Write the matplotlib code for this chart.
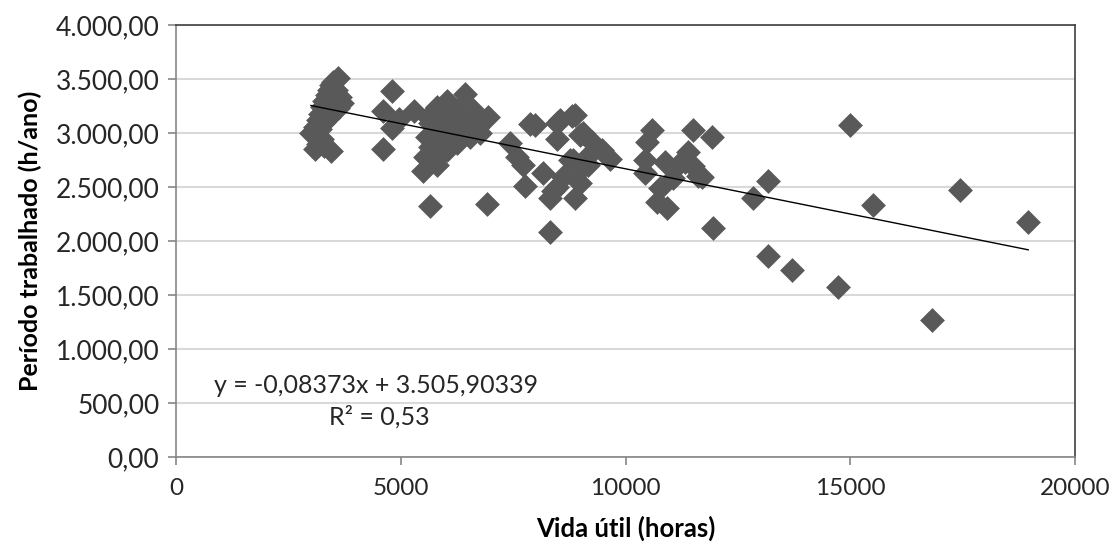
import numpy as np
import matplotlib
matplotlib.use("Agg")
import matplotlib.pyplot as plt
from matplotlib.ticker import FuncFormatter

# vida útil (horas) x período trabalhado (h/ano)
vida_util = [
    3000, 3100, 3150, 3200, 3250, 3300, 3350, 3400, 3450, 3500, 3600, 3550, 3650, 3700,
    3600, 3500, 3400, 3300, 3200, 3100, 3250, 3150, 3100, 3300, 3450, 3500, 3350,
    4600, 4800, 4800, 4600, 4950, 5300,
    6430, 6030, 6940, 5810, 5580, 5500, 5720, 6030, 6250, 6540, 6700, 6380, 6100, 5870,
    5650, 6250, 6600, 5940, 5650, 5870, 5650, 6920, 6760, 5600, 6000, 6200, 5800, 5550,
    7430, 7590, 7720, 7770, 7880, 7980, 8170, 8480, 8810, 8480, 8990, 9260, 9480, 9660,
    8390, 8610, 8830, 8990, 8880, 8320, 8880, 8880, 9170, 8480, 8320, 8540, 9060, 8770,
    8990, 9140,
    10590, 10480, 10430, 10880, 10430, 10770, 10700, 10920, 11500, 11920, 11390, 11320,
    11500, 11700, 11060, 11950, 11610, 11220,
    12840, 13170, 13170, 13700, 14730, 14990, 15510, 16820, 17440, 18960,
]
periodo = [
    3000, 3060, 3120, 3180, 3240, 3300, 3350, 3400, 3440, 3470, 3510, 3400, 3330, 3280,
    3230, 3200, 3150, 3100, 3040, 2980, 2940, 2900, 2850, 2880, 2830, 3300, 3200,
    3200, 3390, 3050, 2850, 3130, 3200,
    3360, 3300, 3150, 3240, 2960, 2650, 2750, 2840, 2910, 2960, 3050, 3090, 3120, 3050,
    3090, 3210, 3210, 2960, 2870, 2810, 2320, 2340, 3000, 3150, 3200, 3000, 2700, 2780,
    2910, 2780, 2700, 2510, 3080, 3070, 2630, 3090, 3160, 2940, 2980, 2920, 2840, 2760,
    2460, 2590, 2750, 2540, 2400, 2080, 3170, 2720, 2700, 2500, 2400, 3120, 3000, 2750,
    2660, 2780,
    3030, 2920, 2750, 2730, 2630, 2490, 2360, 2310, 3030, 2960, 2820, 2730,
    2690, 2590, 2580, 2120, 2600, 2720,
    2400, 2560, 1860, 1730, 1570, 3070, 2330, 1270, 2470, 2180,
]

slope = -0.08373
intercept = 3505.90339
eq_text = "y = -0,08373x + 3.505,90339"
r2_text = "R² = 0,53"

def br_fmt(v, pos):
    s = f"{v:,.2f}"
    return s.replace(",", "X").replace(".", ",").replace("X", ".")

fig = plt.figure(figsize=(11.12, 5.44), dpi=100)
ax = fig.add_axes([0.1583, 0.16, 0.8084, 0.794])

ax.scatter(vida_util, periodo, marker="D", s=160, color="#595959", linewidths=0, zorder=3)

# linha de tendência (equação do próprio gráfico)
xl = np.array([min(vida_util), max(vida_util)])
ax.plot(xl, slope * xl + intercept, color="black", lw=1.0, zorder=4)

ax.set_xlim(0, 20000)
ax.set_ylim(0, 4000)
ax.set_xticks([0, 5000, 10000, 15000, 20000])
ax.set_yticks(np.arange(0, 4001, 500))
ax.yaxis.set_major_formatter(FuncFormatter(br_fmt))
ax.grid(axis="y", color="#d9d9d9", lw=1.5, zorder=0)
ax.set_axisbelow(True)

for side in ("left", "bottom"):
    ax.spines[side].set_color("#868686")
    ax.spines[side].set_linewidth(1.2)
for side in ("top", "right"):
    ax.spines[side].set_color("#404040")
    ax.spines[side].set_linewidth(1.2)

ax.tick_params(axis="both", colors="#868686", length=6, width=1.2, labelcolor="#262626")
ax.tick_params(axis="x", labelsize=17.5, pad=9)
ax.tick_params(axis="y", labelsize=19, pad=6)
for lab in ax.get_xticklabels() + ax.get_yticklabels():
    lab.set_family("Lato")

ax.set_xlabel("Vida útil (horas)", fontsize=18.5, fontweight="bold", family="Lato", labelpad=12)
ax.set_ylabel("Período trabalhado (h/ano)", fontsize=18, fontweight="bold", family="Lato", labelpad=10)

ax.text(850, 660, eq_text, fontsize=18, family="Lato", color="#262626", va="center")
ax.text(3400, 370, r2_text, fontsize=18, family="Lato", color="#262626", va="center")

fig.savefig("out.png", dpi=100)
